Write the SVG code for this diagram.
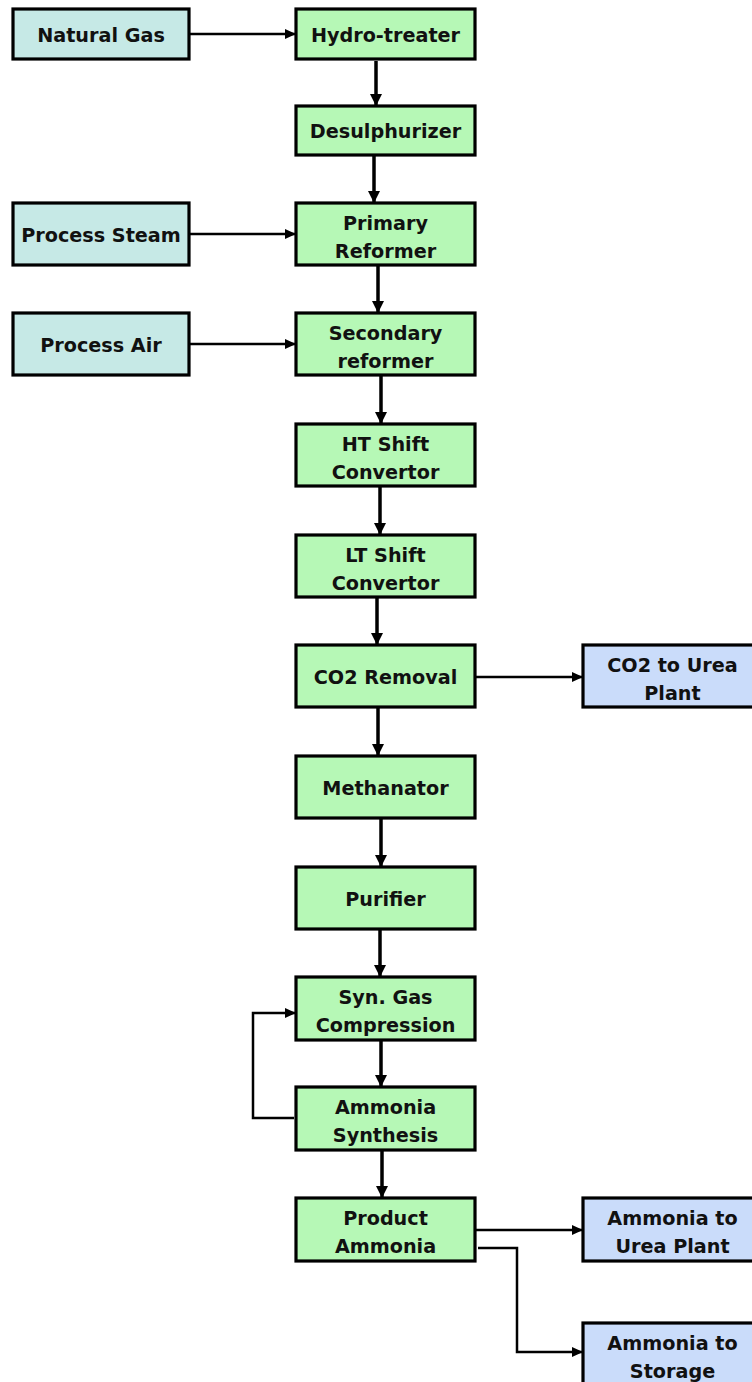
<svg xmlns="http://www.w3.org/2000/svg" width="752" height="1382" viewBox="0 0 752 1382">
<defs>
<style>
.g{fill:#b6f8b6;stroke:#000;stroke-width:3.2}
.t{fill:#c6e9e6;stroke:#000;stroke-width:3.2}
.b{fill:#cadcfa;stroke:#000;stroke-width:3.2}
text{font-family:"DejaVu Sans",Verdana,sans-serif;font-weight:bold;font-size:20px;fill:#111;text-anchor:middle}
.v{fill:none;stroke:#000;stroke-width:3.5;marker-end:url(#av)}
.h{fill:none;stroke:#000;stroke-width:2.5;marker-end:url(#ah)}
</style>
<marker id="av" markerUnits="userSpaceOnUse" markerWidth="14" markerHeight="12" refX="12" refY="6" orient="auto"><path d="M0,0 L12,6 L0,12 Z" fill="#000"/></marker>
<marker id="ah" markerUnits="userSpaceOnUse" markerWidth="12" markerHeight="10" refX="11" refY="5" orient="auto"><path d="M0,0 L11,5 L0,10 Z" fill="#000"/></marker>
</defs>
<g id="connectors">
<path class="h" d="M189,34 H296"/>
<path class="v" d="M376,61 V106"/>
<path class="v" d="M374,156 V203"/>
<path class="h" d="M189,234 H296"/>
<path class="v" d="M378,265 V313"/>
<path class="h" d="M189,344 H296"/>
<path class="v" d="M381,376 V424"/>
<path class="v" d="M380,487 V535"/>
<path class="v" d="M377,598 V645"/>
<path class="h" d="M476,677 H583"/>
<path class="v" d="M378,708 V756"/>
<path class="v" d="M381,819 V867"/>
<path class="v" d="M380,930 V977"/>
<path class="v" d="M381,1041 V1087"/>
<path class="v" d="M382,1151 V1198"/>
<path class="h" d="M294,1118 H253 V1013 H296"/>
<path class="h" d="M476,1230 H583"/>
<path class="h" d="M478,1248 H517 V1352 H583"/>
</g>
<g id="natural-gas"><rect class="t" x="13" y="9" width="176" height="50"/><text transform="translate(101,42) scale(0.96,1)">Natural Gas</text></g>
<g id="hydro-treater"><rect class="g" x="296" y="9" width="179" height="50"/><text transform="translate(385.5,42) scale(0.96,1)">Hydro-treater</text></g>
<g id="desulphurizer"><rect class="g" x="296" y="106" width="179" height="49"/><text transform="translate(385.5,138) scale(0.96,1)">Desulphurizer</text></g>
<g id="process-steam"><rect class="t" x="13" y="203" width="176" height="62"/><text transform="translate(101,242) scale(0.96,1)">Process Steam</text></g>
<g id="primary-reformer"><rect class="g" x="296" y="203" width="179" height="62"/><text transform="translate(385.5,230) scale(0.96,1)">Primary</text><text transform="translate(385.5,258) scale(0.96,1)">Reformer</text></g>
<g id="process-air"><rect class="t" x="13" y="313" width="176" height="62"/><text transform="translate(101,352) scale(0.96,1)">Process Air</text></g>
<g id="secondary-reformer"><rect class="g" x="296" y="313" width="179" height="62"/><text transform="translate(385.5,340) scale(0.96,1)">Secondary</text><text transform="translate(385.5,368) scale(0.96,1)">reformer</text></g>
<g id="ht-shift"><rect class="g" x="296" y="424" width="179" height="62"/><text transform="translate(385.5,451) scale(0.96,1)">HT Shift</text><text transform="translate(385.5,479) scale(0.96,1)">Convertor</text></g>
<g id="lt-shift"><rect class="g" x="296" y="535" width="179" height="62"/><text transform="translate(385.5,562) scale(0.96,1)">LT Shift</text><text transform="translate(385.5,590) scale(0.96,1)">Convertor</text></g>
<g id="co2-removal"><rect class="g" x="296" y="645" width="179" height="62"/><text transform="translate(385.5,684) scale(0.96,1)">CO2 Removal</text></g>
<g id="co2-urea"><rect class="b" x="583" y="645" width="179" height="62"/><text transform="translate(672.5,672) scale(0.96,1)">CO2 to Urea</text><text transform="translate(672.5,700) scale(0.96,1)">Plant</text></g>
<g id="methanator"><rect class="g" x="296" y="756" width="179" height="62"/><text transform="translate(385.5,795) scale(0.96,1)">Methanator</text></g>
<g id="purifier"><rect class="g" x="296" y="867" width="179" height="62"/><text transform="translate(385.5,906) scale(0.96,1)">Purifier</text></g>
<g id="syn-gas"><rect class="g" x="296" y="977" width="179" height="63"/><text transform="translate(385.5,1004) scale(0.96,1)">Syn. Gas</text><text transform="translate(385.5,1032) scale(0.96,1)">Compression</text></g>
<g id="ammonia-synthesis"><rect class="g" x="296" y="1087" width="179" height="63"/><text transform="translate(385.5,1114) scale(0.96,1)">Ammonia</text><text transform="translate(385.5,1142) scale(0.96,1)">Synthesis</text></g>
<g id="product-ammonia"><rect class="g" x="296" y="1198" width="179" height="63"/><text transform="translate(385.5,1225) scale(0.96,1)">Product</text><text transform="translate(385.5,1253) scale(0.96,1)">Ammonia</text></g>
<g id="ammonia-urea"><rect class="b" x="583" y="1198" width="179" height="63"/><text transform="translate(672.5,1225) scale(0.96,1)">Ammonia to</text><text transform="translate(672.5,1253) scale(0.96,1)">Urea Plant</text></g>
<g id="ammonia-storage"><rect class="b" x="583" y="1323" width="179" height="70"/><text transform="translate(672.5,1350) scale(0.96,1)">Ammonia to</text><text transform="translate(672.5,1378) scale(0.96,1)">Storage</text></g>
</svg>
